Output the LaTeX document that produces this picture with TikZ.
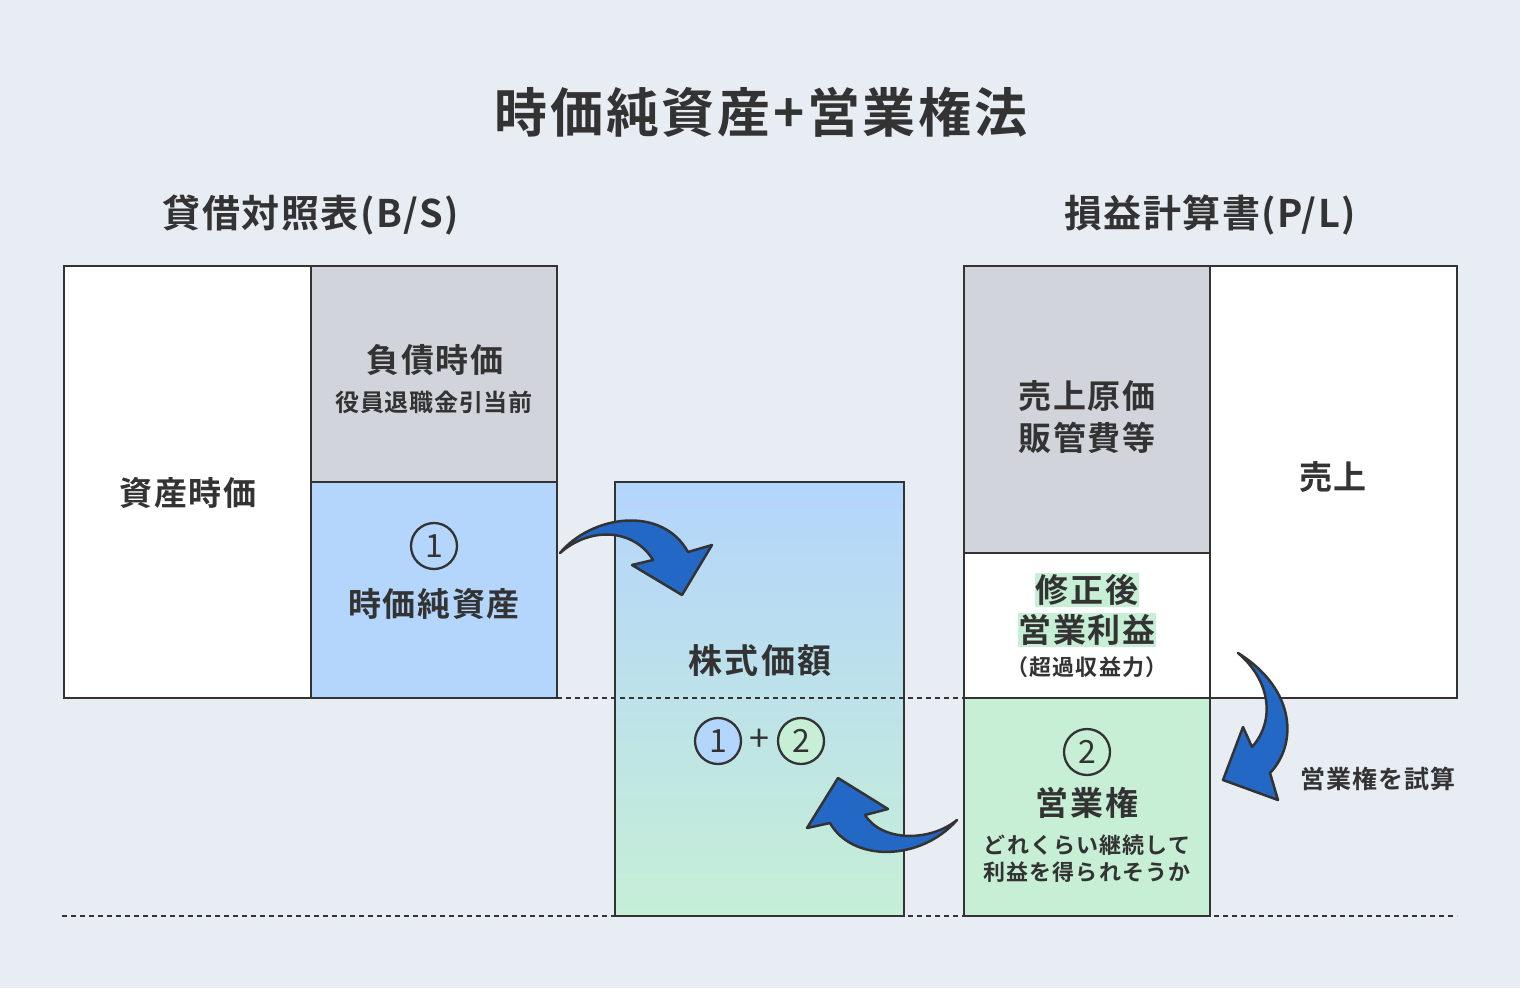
\documentclass[tikz,border=0pt]{standalone}
\usepackage{fontspec}
\setmainfont{Noto Sans CJK JP}[BoldFont={Noto Sans CJK JP Bold}]
\usetikzlibrary{shapes.geometric}
\definecolor{bg}{HTML}{E8EDF4}
\definecolor{ink}{HTML}{333333}
\definecolor{graybox}{HTML}{D1D5DB}
\definecolor{bluebox}{HTML}{B4D5FC}
\definecolor{greenbox}{HTML}{C6EFD6}
\definecolor{arrowblue}{HTML}{2468C6}
\definecolor{hl}{HTML}{C6EFD6}
\tikzset{
  box/.style={draw=ink, line width=2.5pt, inner sep=0pt, outer sep=0pt, anchor=north west},
  txt/.style={text=ink, inner sep=0pt, align=center},
  big/.style={txt, font=\fontsize{33}{40}\selectfont\bfseries\addfontfeatures{LetterSpace=5}},
  small/.style={txt, font=\fontsize{22}{26}\selectfont\bfseries\addfontfeatures{LetterSpace=5}},
  numc/.style={draw=ink, circle, line width=2.3pt, minimum size=46pt, inner sep=0pt, text=ink, font=\fontsize{32}{34}\selectfont},
  blockarrow/.style={fill=arrowblue, draw=ink, line width=2.5pt, line join=round},
  dashline/.style={draw=ink, line width=2pt, dash pattern=on 5pt off 4pt},
}
\begin{document}
\begin{tikzpicture}[x=1pt,y=-1pt]
\fill[bg] (0,0) rectangle (1520,988);
\useasboundingbox (0,0) rectangle (1520,988);
% dashed lines
\draw[dashline] (62,916) -- (1457,916);
% middle box
\shade[top color=bluebox, bottom color=greenbox] (615,482) rectangle (904,916);
\node[box, minimum width=289pt, minimum height=434pt] (stock) at (615,482) {};
\draw[dashline] (557,698) -- (964,698);
% B/S
\node[box, fill=white, minimum width=247pt, minimum height=432pt] (assets) at (64,266) {};
\node[box, fill=graybox, minimum width=246pt, minimum height=216pt] (liab) at (311,266) {};
\node[box, fill=bluebox, minimum width=246pt, minimum height=216pt] (nav) at (311,482) {};
% P/L
\node[box, fill=graybox, minimum width=246pt, minimum height=287pt] (cost) at (964,266) {};
\node[box, fill=white, minimum width=246pt, minimum height=145pt] (profit) at (964,553) {};
\node[box, fill=greenbox, minimum width=246pt, minimum height=218pt] (goodwill) at (964,698) {};
\node[box, fill=white, minimum width=247pt, minimum height=432pt] (sales) at (1210,266) {};
% titles
\node[txt, font=\fontsize{53}{60}\selectfont\bfseries\addfontfeatures{LetterSpace=5}] (title) at (761,112) {時価純資産+営業権法};
\node[txt, font=\fontsize{38}{44}\selectfont\bfseries\addfontfeatures{LetterSpace=4}] (bstitle) at (311,215) {貸借対照表(B/S)};
\node[txt, font=\fontsize{38}{44}\selectfont\bfseries\addfontfeatures{LetterSpace=4}] (pltitle) at (1210,215) {損益計算書(P/L)};
% B/S texts
\node[big] (assetst) at (188,493) {資産時価};
\node[big] (liabt) at (435,360) {負債時価};
\node[small, font=\fontsize{24}{28}\selectfont\bfseries\addfontfeatures{LetterSpace=3}] (liabs) at (434,402) {役員退職金引当前};
\node[numc] (c1) at (434,546) {1};
\node[big] (navt) at (434,604) {時価純資産};
% middle texts
\node[big, font=\fontsize{34}{40}\selectfont\bfseries\addfontfeatures{LetterSpace=7}] (stockt) at (760,661) {株式価額};
\node[numc, fill=bluebox] (m1) at (718,741) {1};
\node[txt, font=\fontsize{36}{38}\selectfont] (plus) at (759,740) {+};
\node[numc, fill=greenbox] (m2) at (801,741) {2};
% P/L texts
\node[big] (costt) at (1087,417) {売上原価\\[2pt]販管費等};
\node[big, fill=hl, inner sep=1pt] (proft1) at (1087,590) {修正後};
\node[big, fill=hl, inner sep=1pt] (proft2) at (1087,630) {営業利益};
\node[small] (proft3) at (1087,667) {（超過収益力）};
\node[numc] (c2) at (1087,752) {2};
\node[big] (gwt) at (1087,803) {営業権};
\node[small] (gws) at (1087,859) {どれくらい継続して\\[1pt]利益を得られそうか};
\node[big] (salest) at (1333,477) {売上};
\node[small, font=\fontsize{25}{28}\selectfont\bfseries\addfontfeatures{LetterSpace=4}] (trial) at (1378,779) {営業権を試算};
% block arrows
\draw[blockarrow] (560,553) .. controls (592,515) and (662,505) .. (688,552)
  -- (712,545) -- (682,595) -- (632,565) -- (653,560)
  .. controls (635,530) and (592,525) .. cycle;
\draw[blockarrow] (957,820) .. controls (920,862) and (852,862) .. (830,823)
  -- (807,828) -- (838,778) -- (888,809) -- (865,815)
  .. controls (882,842) and (930,842) .. cycle;
\draw[blockarrow] (1238,653) .. controls (1297,690) and (1297,745) .. (1270,773)
  -- (1278,800) -- (1223,780) -- (1243,727) -- (1252,747)
  .. controls (1276,720) and (1270,680) .. cycle;
\end{tikzpicture}
\end{document}
